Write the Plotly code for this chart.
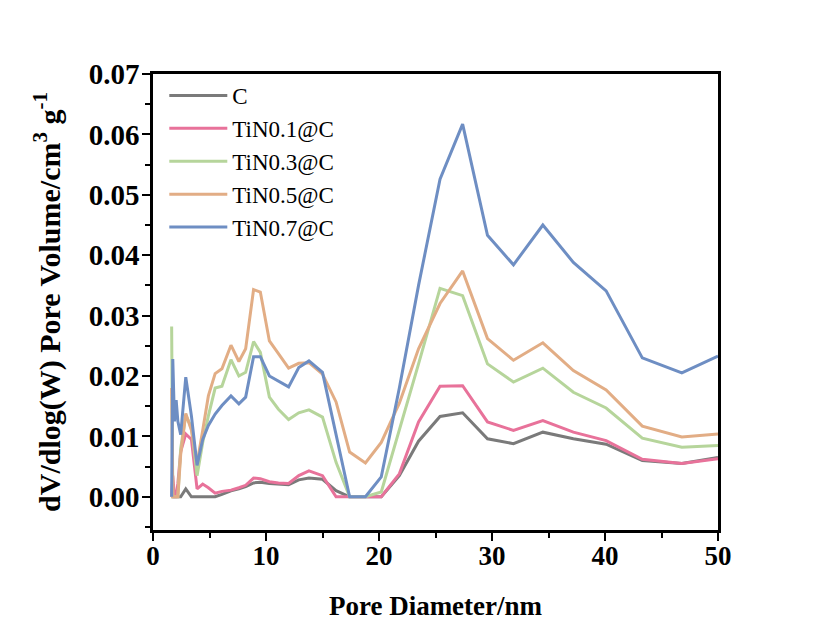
import plotly.graph_objects as go

pore_diameter = [1.65, 1.75, 1.9, 2.05, 2.2, 2.45, 2.9, 3.4, 3.9, 4.4, 4.9, 5.5, 6.1, 6.9, 7.6, 8.2,
                 8.9, 9.5, 10.3, 11.1, 12.0, 12.9, 13.8, 15.0, 16.2, 17.4, 18.8, 20.2, 21.8, 23.5,
                 25.4, 27.4, 29.6, 31.9, 34.5, 37.2, 40.1, 43.3, 46.8, 50.0]

c_vals = [0, 0, 0, 0, 0, 0, 0.0013, 0, 0, 0, 0, 0, 0.0004, 0.0010, 0.0013, 0.0017,
          0.0023, 0.0024, 0.0022, 0.0021, 0.0020, 0.0028, 0.0031, 0.0029, 0.0010, 0, 0, 0, 0.0035, 0.0092,
          0.0133, 0.0139, 0.0096, 0.0088, 0.0107, 0.0096, 0.0087, 0.0060, 0.0055, 0.0065]

tin01_vals = [0, 0.0035, 0, 0, 0.0022, 0.0075, 0.0104, 0.0095, 0.0013, 0.0021, 0.0015, 0.0006, 0.0009, 0.0011, 0.0015, 0.0019,
              0.0031, 0.0030, 0.0025, 0.0023, 0.0022, 0.0035, 0.0043, 0.0035, 0, 0, 0, 0, 0.0038, 0.0124,
              0.0183, 0.0184, 0.0124, 0.0110, 0.0126, 0.0107, 0.0093, 0.0062, 0.0055, 0.0063]

tin03_vals = [0.0282, 0, 0, 0, 0, 0.0080, 0.0135, 0.0115, 0.0035, 0.0090, 0.0134, 0.0180, 0.0183, 0.0227, 0.0200, 0.0206,
              0.0257, 0.0239, 0.0165, 0.0145, 0.0128, 0.0139, 0.0144, 0.0132, 0.0057, 0, 0, 0.0008, 0.0110, 0.0220,
              0.0345, 0.0333, 0.0220, 0.0190, 0.0213, 0.0173, 0.0147, 0.0097, 0.0082, 0.0085]

tin05_vals = [0.0180, 0, 0, 0, 0, 0.0070, 0.0138, 0.0110, 0.0055, 0.0110, 0.0167, 0.0204, 0.0212, 0.0251, 0.0224, 0.0245,
              0.0343, 0.0339, 0.0258, 0.0237, 0.0213, 0.0221, 0.0222, 0.0203, 0.0157, 0.0074, 0.0056, 0.0090, 0.0155, 0.0245,
              0.0320, 0.0374, 0.0262, 0.0226, 0.0255, 0.0209, 0.0177, 0.0117, 0.0099, 0.0104]

tin07_vals = [0, 0.0228, 0.0125, 0.0160, 0.0125, 0.0103, 0.0198, 0.0134, 0.0052, 0.0095, 0.0118, 0.0137, 0.0151, 0.0167, 0.0154, 0.0165,
              0.0232, 0.0232, 0.0200, 0.0192, 0.0182, 0.0214, 0.0225, 0.0206, 0.0105, 0, 0, 0.0033, 0.0180, 0.0350,
              0.0526, 0.0617, 0.0433, 0.0384, 0.0450, 0.0388, 0.0341, 0.0230, 0.0205, 0.0233]

series_names = ["C", "TiN0.1@C", "TiN0.3@C", "TiN0.5@C", "TiN0.7@C"]
series_vals = [c_vals, tin01_vals, tin03_vals, tin05_vals, tin07_vals]
colors = ["#7a7a7a", "#e8729a", "#b6d59b", "#e2ad85", "#6e8ec3"]

x_ticks = [0, 10, 20, 30, 40, 50]
y_ticks = [0.00, 0.01, 0.02, 0.03, 0.04, 0.05, 0.06, 0.07]

fig = go.Figure()
for i, (name, vals, col) in enumerate(zip(series_names, series_vals, colors)):
    fig.add_trace(go.Scatter(x=pore_diameter, y=vals, mode="lines", name=name,
                             line=dict(color=col, width=3)))

font_family = "Liberation Serif, Times New Roman, serif"

# page body has an 8px margin, so the figure is sized 811x618
fig.update_layout(
    width=811, height=618,
    paper_bgcolor="white", plot_bgcolor="white",
    margin=dict(l=145, r=101, t=66, b=96, autoexpand=False),
    font=dict(family=font_family, color="black"),
    showlegend=True,
    legend=dict(x=0.02, y=1.0, xanchor="left", yanchor="top",
                bgcolor="rgba(0,0,0,0)", borderwidth=0,
                font=dict(family=font_family, size=23, color="black"),
                itemwidth=58),
    xaxis=dict(range=[0, 50], tickvals=x_ticks, ticktext=[f"<b>{v}</b>" for v in x_ticks],
               ticks="outside", ticklen=8, tickwidth=2, tickcolor="black",
               minor=dict(dtick=5, ticks="outside", ticklen=5, tickwidth=2, tickcolor="black"),
               showline=True, linewidth=2.5, linecolor="black", mirror=True,
               showgrid=False, zeroline=False, automargin=False,
               ticklabelstandoff=-8,
               tickfont=dict(family=font_family, size=27, color="black"),
               title=dict(text="<b>Pore Diameter/nm</b>", font=dict(family=font_family, size=27, color="black"),
                          standoff=26)),
    yaxis=dict(range=[-0.0055, 0.07], tickvals=y_ticks, ticktext=[f"<b>{v:.2f}</b>" for v in y_ticks],
               ticks="outside", ticklen=8, tickwidth=2, tickcolor="black",
               minor=dict(dtick=0.005, tick0=0, ticks="outside", ticklen=5, tickwidth=2, tickcolor="black"),
               showline=True, linewidth=2.5, linecolor="black", mirror=True,
               showgrid=False, zeroline=False, automargin=False,
               ticklabelstandoff=-3,
               tickfont=dict(family=font_family, size=29, color="black"),
               title=dict(text="<b>dV/dlog(W) Pore Volume/cm<sup>3</sup> g<sup>-1</sup></b>",
                          font=dict(family=font_family, size=30, color="black"), standoff=20)),
)

fig.write_html("out.html")
